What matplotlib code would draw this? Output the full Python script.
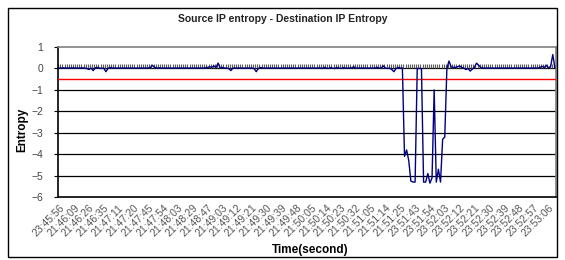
import matplotlib
matplotlib.use("Agg")
import matplotlib.pyplot as plt
from matplotlib.patches import Rectangle

# category labels shown on the time axis (one every 7 samples)
time_labels = ['23:45:56', '21:46:09', '21:46:26', '21:46:35', '21:47:11', '21:47:20',
               '21:47:45', '21:47:54', '21:48:03', '21:48:29', '21:48:47', '21:49:03',
               '21:49:12', '21:49:21', '21:49:30', '21:49:39', '21:49:48', '21:50:05',
               '21:50:14', '21:50:23', '21:50:32', '21:51:05', '21:51:14', '21:51:25',
               '23:51:43', '23:51:54', '23:52:03', '23:52:12', '23:52:21', '23:52:30',
               '23:52:39', '23:52:48', '23:52:57', '23:53:06']
label_step = 7

# source IP entropy - destination IP entropy, one value per sample
entropy_diff = [
    0.02, 0.02, 0.03, 0.02, 0.02, 0.02, 0.03, 0.02, 0.02, 0.02, 0.02, 0.03, 0.02, 0.0, -0.05, 0.02, -0.1, 0.03, 0.05, 0.02,
    0.0, 0.02, -0.15, 0.0, 0.05, 0.02, 0.02, 0.02, 0.02, 0.02, 0.02, 0.02, 0.02, 0.02, 0.02, 0.02, 0.02, 0.02, 0.02, 0.02,
    0.02, 0.02, 0.02, 0.05, 0.15, 0.05, 0.02, 0.03, 0.02, 0.02, 0.02, 0.02, 0.02, 0.02, 0.02, 0.02, 0.02, 0.02, 0.02, 0.02,
    0.02, 0.02, 0.02, 0.02, 0.02, 0.02, 0.02, 0.02, 0.02, 0.03, 0.05, 0.08, 0.05, 0.12, 0.05, 0.25, 0.02, 0.05, 0.02, 0.02,
    0.0, -0.1, 0.02, 0.02, 0.02, 0.02, 0.02, 0.02, 0.02, 0.02, 0.02, 0.02, 0.0, -0.15, 0.0, 0.05, 0.02, 0.02, 0.02, 0.02,
    0.02, 0.02, 0.02, 0.02, 0.02, 0.02, 0.02, 0.02, 0.02, 0.02, 0.02, 0.02, 0.02, 0.02, 0.02, 0.02, 0.02, 0.02, 0.02, 0.02,
    0.02, 0.02, 0.02, 0.03, 0.0, 0.05, 0.02, 0.0, 0.04, 0.02, 0.0, 0.05, 0.02, 0.0, 0.04, 0.02, 0.02, 0.02, 0.03, 0.08,
    0.02, 0.02, 0.02, 0.02, 0.02, 0.02, 0.02, 0.02, 0.02, 0.02, 0.05, 0.02, 0.02, 0.12, 0.02, 0.0, 0.02, -0.05, -0.15, 0.0,
    0.05, 0.02, 0.02, -4.1, -3.8, -4.3, -5.25, -5.3, -5.3, 0.0, 0.0, 0.0, -5.3, -5.3, -4.9, -5.35, -5.1, -1.0, -5.3, -4.7,
    -5.3, -3.3, -3.2, 0.0, 0.35, 0.08, 0.05, 0.05, 0.08, 0.12, 0.05, 0.02, -0.05, 0.0, -0.12, -0.03, 0.05, 0.25, 0.15, 0.05,
    0.02, 0.02, 0.02, 0.02, 0.02, 0.02, 0.02, 0.02, 0.02, 0.02, 0.02, 0.02, 0.02, 0.02, 0.02, 0.02, 0.02, 0.02, 0.02, 0.02,
    0.02, 0.02, 0.02, 0.02, 0.02, 0.02, 0.02, 0.05, 0.1, 0.05, 0.15, 0.03, 0.1, 0.65, 0.03,
]
threshold = -0.5

plt.rcParams['font.family'] = ['Liberation Sans', 'DejaVu Sans']

fig = plt.figure(figsize=(5.65, 2.6), dpi=100)
ax = fig.add_axes([0.103, 0.242, 0.881, 0.577])

n = len(entropy_diff)
x = list(range(n))

# horizontal grid lines
for yv in range(-5, 1):
    ax.axhline(yv, color='black', lw=0.9, zorder=1)

# category tick marks on the zero axis
ax.vlines([i - 0.5 for i in range(n + 1)], 0, 0.2, color='#5a5a5a', lw=0.8, zorder=2)

ax.axhline(threshold, color='#ff0000', lw=1.0, zorder=3)
ax.plot(x, entropy_diff, color='#000080', lw=1.0, zorder=4)

ax.set_xlim(-0.5, n - 0.5)
ax.set_ylim(-6, 1)
ax.set_yticks(range(-6, 2))
ax.set_yticklabels(['\u2212%d' % -v if v < 0 else str(v) for v in range(-6, 2)])
ax.set_xticks([i * label_step for i in range(len(time_labels))])
ax.set_xticklabels(time_labels, rotation=45, ha='right', va='top', rotation_mode='anchor')
ax.tick_params(axis='x', length=0, pad=4, labelsize=7.5, colors='#555555')
ax.tick_params(axis='y', length=3, pad=8, labelsize=7.5, colors='#444444')
ax.tick_params(axis='y', color='black')

for side in ['top', 'right']:
    ax.spines[side].set_color('#808080')
    ax.spines[side].set_linewidth(1.2)
for side in ['left', 'bottom']:
    ax.spines[side].set_color('black')
    ax.spines[side].set_linewidth(1.2)

fig.text(0.5, 0.925, 'Source IP entropy - Destination IP Entropy', ha='center', va='center',
         fontsize=7.5, fontweight='bold', color='#222222',
         family=['Liberation Sans Narrow', 'Liberation Sans'])
fig.text(0.039, 0.5, 'Entropy', rotation=90, ha='center', va='center', fontsize=8.5,
         fontweight='bold')
fig.text(0.549, 0.038, 'Time(second)', ha='center', va='center', fontsize=8.5,
         fontweight='bold')

fig.patches.append(Rectangle((0.0142, 0.0115), 0.972, 0.958, transform=fig.transFigure,
                             fill=False, edgecolor='black', lw=1.0))

fig.savefig('out.png', dpi=100)
